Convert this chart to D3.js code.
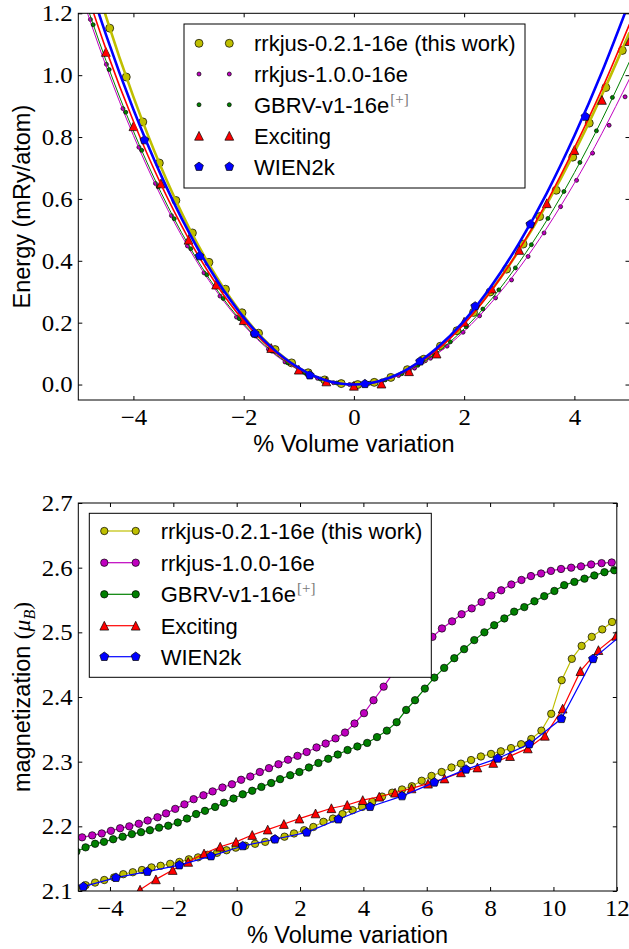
<!DOCTYPE html>
<html><head><meta charset="utf-8">
<script src="https://cdn.jsdelivr.net/npm/d3@7"></script>
<style>body{margin:0;background:#fff}svg{display:block}</style>
</head><body>
<svg id="c" width="629" height="949"></svg>
<script>
// ---------- TOP PANEL: energy vs % volume variation ----------
const eY_v = [-4.43,-4.13,-3.83,-3.53,-3.23,-2.93,-2.63,-2.33,-2.03,-1.73,-1.43,-1.13,-0.83,-0.53,-0.23,0.07,0.37,0.67,0.97,1.27,1.57,1.87,2.17,2.47,2.77,3.07,3.37,3.67,3.97,4.27,4.57,4.87];
const eY_E = [1.152,0.994,0.849,0.716,0.595,0.49,0.395,0.308,0.232,0.166,0.113,0.07,0.038,0.015,0.003,0.0,0.007,0.023,0.048,0.082,0.124,0.174,0.233,0.299,0.373,0.454,0.543,0.628,0.735,0.845,0.96,1.08];
const eM_v = [-4.78,-4.49,-4.19,-3.90,-3.60,-3.31,-3.02,-2.72,-2.43,-2.13,-1.84,-1.55,-1.25,-0.96,-0.66,-0.37,-0.08,0.22,0.51,0.81,1.10,1.39,1.69,1.98,2.28,2.57,2.86,3.16,3.45,3.75,4.04,4.33,4.63,4.92];
const eM_E = [1.18,1.035,0.892,0.767,0.65,0.546,0.448,0.361,0.286,0.218,0.162,0.114,0.073,0.043,0.02,0.006,0.0,0.002,0.012,0.029,0.053,0.085,0.124,0.169,0.222,0.28,0.338,0.414,0.49,0.575,0.66,0.748,0.838,0.93];
const eG_v = [-4.73,-4.44,-4.14,-3.85,-3.55,-3.26,-2.96,-2.67,-2.37,-2.08,-1.79,-1.49,-1.20,-0.90,-0.61,-0.31,-0.02,0.28,0.57,0.87,1.16,1.45,1.75,2.04,2.34,2.63,2.93,3.22,3.52,3.81,4.10,4.40,4.69];
const eG_E = [1.163,1.018,0.88,0.757,0.639,0.536,0.439,0.355,0.278,0.213,0.157,0.108,0.07,0.039,0.018,0.005,0.0,0.004,0.015,0.035,0.062,0.096,0.138,0.187,0.244,0.306,0.377,0.452,0.537,0.624,0.718,0.82,0.928];
const eR_v = [-4.5,-4,-3.5,-3,-2.5,-2,-1.5,-1,-0.5,0,0.5,1,1.5,2,2.5,3,3.5,4,4.5,5];
const eR_E = [1.075,0.835,0.65,0.468,0.323,0.208,0.118,0.048,0.01,-0.004,0.003,0.043,0.1,0.203,0.31,0.435,0.586,0.758,0.92,1.11];
const eB_v = [-3.8,-2.8,-1.8,-0.8,0.2,1.2,2.2,3.2,4.2];
const eB_E = [0.79,0.415,0.165,0.03,0.002,0.075,0.253,0.518,0.866];
// fitted equation-of-state curves (read at 0.5 % steps)
const fitV = [-5,-4.5,-4,-3.5,-3,-2.5,-2,-1.5,-1,-0.5,0,0.5,1,1.5,2,2.5,3,3.5,4,4.5,5];
const fitY = [1.488,1.191,0.930,0.703,0.510,0.350,0.221,0.123,0.054,0.013,0,0.013,0.051,0.113,0.199,0.306,0.435,0.583,0.750,0.936,1.138];
const fitM = [1.288,1.031,0.805,0.609,0.442,0.303,0.192,0.106,0.047,0.012,0,0.011,0.044,0.098,0.172,0.266,0.377,0.506,0.651,0.812,0.988];
const fitG = [1.306,1.048,0.819,0.621,0.451,0.310,0.196,0.109,0.048,0.012,0,0.012,0.046,0.102,0.180,0.277,0.395,0.531,0.685,0.856,1.044];
const fitR = [1.35,1.085,0.851,0.647,0.472,0.325,0.206,0.115,0.051,0.013,0,0.012,0.049,0.110,0.196,0.305,0.436,0.590,0.765,0.955,1.165];
const fitB = [1.406,1.132,0.889,0.677,0.494,0.341,0.217,0.121,0.054,0.013,0,0.013,0.052,0.117,0.206,0.320,0.458,0.619,0.804,1.010,1.239];
const topXTicks = [-4,-2,0,2,4];
const topYTicks = [0.0,0.2,0.4,0.6,0.8,1.0,1.2];

// ---------- BOTTOM PANEL: magnetization vs % volume variation ----------
const mY_v = [-5.07,-4.77,-4.47,-4.18,-3.87,-3.58,-3.28,-2.99,-2.69,-2.40,-2.10,-1.81,-1.51,-1.22,-0.92,-0.62,-0.32,-0.03,0.27,0.58,0.90,1.19,1.51,1.81,2.13,2.42,2.74,3.04,3.34,3.66,3.96,4.28,4.59,4.91,5.22,5.53,5.84,6.15,6.47,6.78,7.08,7.40,7.71,8.03,8.34,8.66,8.98,9.30,9.62,9.93,10.26,10.58,10.89,11.21,11.54,11.85,12.17];
const mY_m = [2.105,2.109,2.113,2.117,2.121,2.126,2.129,2.1325,2.1365,2.139,2.142,2.145,2.149,2.152,2.156,2.159,2.163,2.167,2.170,2.173,2.176,2.180,2.184,2.189,2.194,2.199,2.207,2.212,2.219,2.225,2.230,2.238,2.246,2.252,2.257,2.262,2.2705,2.278,2.284,2.291,2.297,2.3025,2.308,2.312,2.316,2.321,2.327,2.335,2.348,2.374,2.426,2.459,2.479,2.493,2.5045,2.516,2.523];
const mM_v = [-4.88,-4.56,-4.26,-3.97,-3.68,-3.39,-3.09,-2.81,-2.50,-2.23,-1.94,-1.65,-1.36,-1.05,-0.76,-0.45,-0.15,0.14,0.43,0.73,1.02,1.32,1.62,1.92,2.21,2.52,2.81,3.12,3.42,3.72,4.02,4.32,4.64,4.94,5.25,5.56,5.87,6.18,6.48,6.80,7.10,7.42,7.73,8.04,8.35,8.67,8.99,9.29,9.61,9.92,10.24,10.56,10.87,11.19,11.52,11.84];
const mM_m = [2.183,2.186,2.189,2.193,2.197,2.200,2.204,2.209,2.214,2.220,2.227,2.234,2.242,2.248,2.254,2.260,2.265,2.272,2.277,2.284,2.290,2.296,2.303,2.309,2.315,2.322,2.328,2.336,2.345,2.359,2.375,2.395,2.416,2.437,2.456,2.471,2.483,2.493,2.506,2.517,2.528,2.537,2.547,2.557,2.565,2.574,2.581,2.587,2.591,2.595,2.598,2.600,2.602,2.605,2.607,2.608];
const mG_v = [-5.06,-4.77,-4.47,-4.19,-3.90,-3.60,-3.31,-3.02,-2.74,-2.45,-2.16,-1.86,-1.57,-1.28,-1.00,-0.68,-0.40,-0.10,0.19,0.49,0.78,1.09,1.37,1.69,1.98,2.28,2.58,2.89,3.19,3.50,3.81,4.12,4.43,4.74,5.05,5.35,5.63,5.94,6.24,6.55,6.87,7.18,7.50,7.82,8.13,8.45,8.76,9.08,9.40,9.71,10.03,10.34,10.66,10.98,11.29,11.61,11.92];
const mG_m = [2.161,2.1675,2.173,2.176,2.180,2.184,2.188,2.191,2.194,2.198,2.201,2.206,2.212,2.219,2.224,2.230,2.2365,2.243,2.2495,2.255,2.261,2.267,2.273,2.279,2.284,2.291,2.298,2.3045,2.311,2.318,2.3235,2.329,2.338,2.348,2.361,2.380,2.395,2.413,2.430,2.445,2.460,2.474,2.488,2.500,2.511,2.5215,2.532,2.539,2.548,2.556,2.564,2.573,2.578,2.583,2.588,2.593,2.596];
const mR_v = [-3.55,-3.05,-2.55,-2.02,-1.53,-1.03,-0.52,-0.02,0.49,0.98,1.49,1.98,2.49,2.99,3.49,3.98,4.50,5.00,5.52,6.04,6.56,7.08,7.60,8.10,8.63,9.19,9.73,10.29,10.85,11.42,11.98];
const mR_m = [2.085,2.102,2.118,2.1325,2.145,2.158,2.1685,2.176,2.1866,2.195,2.2036,2.212,2.220,2.228,2.233,2.2406,2.2458,2.252,2.2587,2.266,2.274,2.2835,2.291,2.298,2.3086,2.3205,2.340,2.382,2.440,2.4725,2.4946];
const mB_v = [-4.84,-3.81,-2.82,-1.81,-0.81,0.19,1.21,2.21,3.21,4.21,5.22,6.24,7.24,8.24,9.24,10.25,11.25,12.25];
const mB_m = [2.1067,2.1206,2.130,2.140,2.154,2.1696,2.180,2.1907,2.211,2.2303,2.2468,2.268,2.288,2.305,2.3272,2.3663,2.459,2.50];
const botXTicks = [-4,-2,0,2,4,6,8,10,12];
const botYTicks = [2.1,2.2,2.3,2.4,2.5,2.6,2.7];

const seriesNames = ["rrkjus-0.2.1-16e (this work)","rrkjus-1.0.0-16e","GBRV-v1-16e","Exciting","WIEN2k"];
const seriesColors = ["#bfbf00","#bf00bf","#008000","#ff0000","#0000ff"];

// ---------- drawing ----------
const svg = d3.select("#c");
const SANS = "'Liberation Sans', Arial, Helvetica, sans-serif";
const SERIF = "'Liberation Serif', 'Times New Roman', serif";
const TSX = 1.08;

function markerPath(type, s) {
  if (type === "tri") return `M0,${-s}L${s},${s}L${-s},${s}Z`;
  const p = [];
  for (let i = 0; i < 5; i++) { const a = -Math.PI/2 + i*2*Math.PI/5; p.push([s*Math.cos(a), s*Math.sin(a)]); }
  return "M" + p.map(d => d[0].toFixed(2)+","+d[1].toFixed(2)).join("L") + "Z";
}
function drawMarkers(g, pts, type, size, fill) {
  if (type === "circle") {
    g.selectAll(null).data(pts).join("circle")
      .attr("cx", d => d[0]).attr("cy", d => d[1]).attr("r", size)
      .attr("fill", fill).attr("stroke", "#000").attr("stroke-width", 0.7);
  } else {
    g.selectAll(null).data(pts).join("path")
      .attr("transform", d => `translate(${d[0]},${d[1]})`)
      .attr("d", markerPath(type, size))
      .attr("fill", fill).attr("stroke", "#000").attr("stroke-width", 0.7);
  }
}
const minusFmt = f => d => { const s = f(Math.abs(d)); return d < 0 ? "\u2212" + s : s; };

function frameAxes(x, y, xt, yt, xfmt, yfmt) {
  const [x0, x1] = x.range(), [y0, y1] = y.range();
  const style = g => {
    g.select(".domain").remove();
    g.attr("font-family", SERIF).attr("font-size", 23);
    g.selectAll(".tick line").attr("stroke", "#000").attr("stroke-width", 1);
    g.selectAll(".tick text").attr("fill", "#000").attr("transform", `scale(${TSX},1)`);
  };
  svg.append("g").attr("transform", `translate(0,${y0})`)
    .call(d3.axisBottom(x).tickValues(xt).tickSizeInner(-4).tickSizeOuter(0).tickPadding(8.7).tickFormat(xfmt)).call(style);
  svg.append("g").attr("transform", `translate(0,${y1})`)
    .call(d3.axisTop(x).tickValues(xt).tickSizeInner(-4).tickSizeOuter(0).tickFormat("")).call(style);
  svg.append("g").attr("transform", `translate(${x0},0)`)
    .call(d3.axisLeft(y).tickValues(yt).tickSizeInner(-4).tickSizeOuter(0).tickPadding(5.2).tickFormat(yfmt)).call(style);
  svg.append("g").attr("transform", `translate(${x1},0)`)
    .call(d3.axisRight(y).tickValues(yt).tickSizeInner(-4).tickSizeOuter(0).tickFormat("")).call(style);
  svg.append("rect").attr("x", x0).attr("y", y1).attr("width", x1 - x0).attr("height", y0 - y1)
    .attr("fill", "none").attr("stroke", "#000").attr("stroke-width", 1);
}

function legend(x0, y0, w, h, ys, mx, tx, withLine, specs) {
  const g = svg.append("g");
  g.append("rect").attr("x", x0).attr("y", y0).attr("width", w).attr("height", h)
    .attr("fill", "#fff").attr("stroke", "#000").attr("stroke-width", 1);
  specs.forEach((s, i) => {
    const yy = ys[i];
    if (withLine) g.append("line").attr("x1", mx[0]).attr("x2", mx[1]).attr("y1", yy).attr("y2", yy)
      .attr("stroke", s.color).attr("stroke-width", 1.2);
    drawMarkers(g, [[mx[0], yy], [mx[1], yy]], s.mk, s.ms, s.color);
    const t = g.append("text").attr("x", tx).attr("y", yy + 8).attr("font-family", SANS)
      .attr("font-size", 22).attr("fill", "#000").text(seriesNames[i]);
    if (i === 2) t.append("tspan").attr("font-family", SERIF).attr("font-size", 15)
      .attr("fill", "#777").attr("dy", -9).attr("dx", 1).text("[+]");
  });
}

// ===== TOP PANEL =====
const xT = d3.scaleLinear().domain([-5, 5]).range([78.3, 629.5]);
const yT = d3.scaleLinear().domain([-0.05, 1.2]).range([400, 13.3]);
svg.append("clipPath").attr("id", "clipT").append("rect")
  .attr("x", 78.3).attr("y", 13.3).attr("width", 551.2).attr("height", 386.7);
const topSpecs = [
  {v: eY_v, E: eY_E, fit: fitY, lw: 2.6, mk: "circle", ms: 4.0},
  {v: eM_v, E: eM_E, fit: fitM, lw: 1.0, mk: "circle", ms: 2.0},
  {v: eG_v, E: eG_E, fit: fitG, lw: 1.0, mk: "circle", ms: 2.0},
  {v: eR_v, E: eR_E, fit: fitR, lw: 1.6, mk: "tri", ms: 4.4},
  {v: eB_v, E: eB_E, fit: fitB, lw: 2.6, mk: "pent", ms: 4.6}
];
const gT = svg.append("g").attr("clip-path", "url(#clipT)");
const fitLine = d3.line().curve(d3.curveNatural);
topSpecs.forEach((s, i) => {
  s.color = seriesColors[i];
  drawMarkers(gT, s.v.map((v, k) => [xT(v), yT(s.E[k])]), s.mk, s.ms, s.color);
  gT.append("path").attr("d", fitLine(fitV.map((v, k) => [xT(v), yT(s.fit[k])])))
    .attr("fill", "none").attr("stroke", s.color).attr("stroke-width", s.lw);
});
frameAxes(xT, yT, topXTicks, topYTicks, minusFmt(d3.format("d")), minusFmt(d3.format(".1f")));
legend(184, 24, 341, 164, [43.3, 74, 104.7, 135.8, 166.7], [199, 229.3], 254, false, topSpecs);
svg.append("text").attr("transform", "translate(353.9,452)").attr("text-anchor", "middle")
  .attr("font-family", SANS).attr("font-size", 23.5).text("% Volume variation");
svg.append("text").attr("transform", "translate(30,206.6) rotate(-90)").attr("text-anchor", "middle")
  .attr("font-family", SANS).attr("font-size", 23.5).text("Energy (mRy/atom)");

// ===== BOTTOM PANEL =====
const xB = d3.scaleLinear().domain([-5, 12]).range([78.3, 616.8]);
const yB = d3.scaleLinear().domain([2.1, 2.7]).range([891, 503]);
svg.append("clipPath").attr("id", "clipB").append("rect")
  .attr("x", 78.3).attr("y", 503).attr("width", 538.5).attr("height", 388);
const botSpecs = [
  {v: mY_v, m: mY_m, mk: "circle", ms: 3.7},
  {v: mM_v, m: mM_m, mk: "circle", ms: 3.7},
  {v: mG_v, m: mG_m, mk: "circle", ms: 3.7},
  {v: mR_v, m: mR_m, mk: "tri", ms: 4.4},
  {v: mB_v, m: mB_m, mk: "pent", ms: 4.7}
];
const gB = svg.append("g").attr("clip-path", "url(#clipB)");
const segLine = d3.line();
botSpecs.forEach((s, i) => {
  s.color = seriesColors[i];
  const pts = s.v.map((v, k) => [xB(v), yB(s.m[k])]);
  gB.append("path").attr("d", segLine(pts)).attr("fill", "none")
    .attr("stroke", s.color).attr("stroke-width", 1.2);
  drawMarkers(gB, pts, s.mk, s.ms, s.color);
});
frameAxes(xB, yB, botXTicks, botYTicks, minusFmt(d3.format("d")), d3.format(".1f"));
legend(89.3, 513.3, 342, 164, [531, 562.7, 594.3, 625.7, 656.7], [104.3, 135.7], 160.7, true, botSpecs);
svg.append("text").attr("transform", "translate(347.5,943)").attr("text-anchor", "middle")
  .attr("font-family", SANS).attr("font-size", 23.5).text("% Volume variation");
const yl = svg.append("text").attr("transform", "translate(30,697) rotate(-90)").attr("text-anchor", "middle")
  .attr("font-family", SANS).attr("font-size", 23.5);
yl.append("tspan").text("magnetization ");
yl.append("tspan").attr("font-family", SERIF).text("(");
yl.append("tspan").attr("font-family", SERIF).attr("font-style", "italic").text("\u03bc");
yl.append("tspan").attr("font-family", SERIF).attr("font-style", "italic").attr("font-size", 16).attr("dy", 5).text("B");
yl.append("tspan").attr("font-family", SERIF).attr("dy", -5).text(")");
</script>
</body></html>
